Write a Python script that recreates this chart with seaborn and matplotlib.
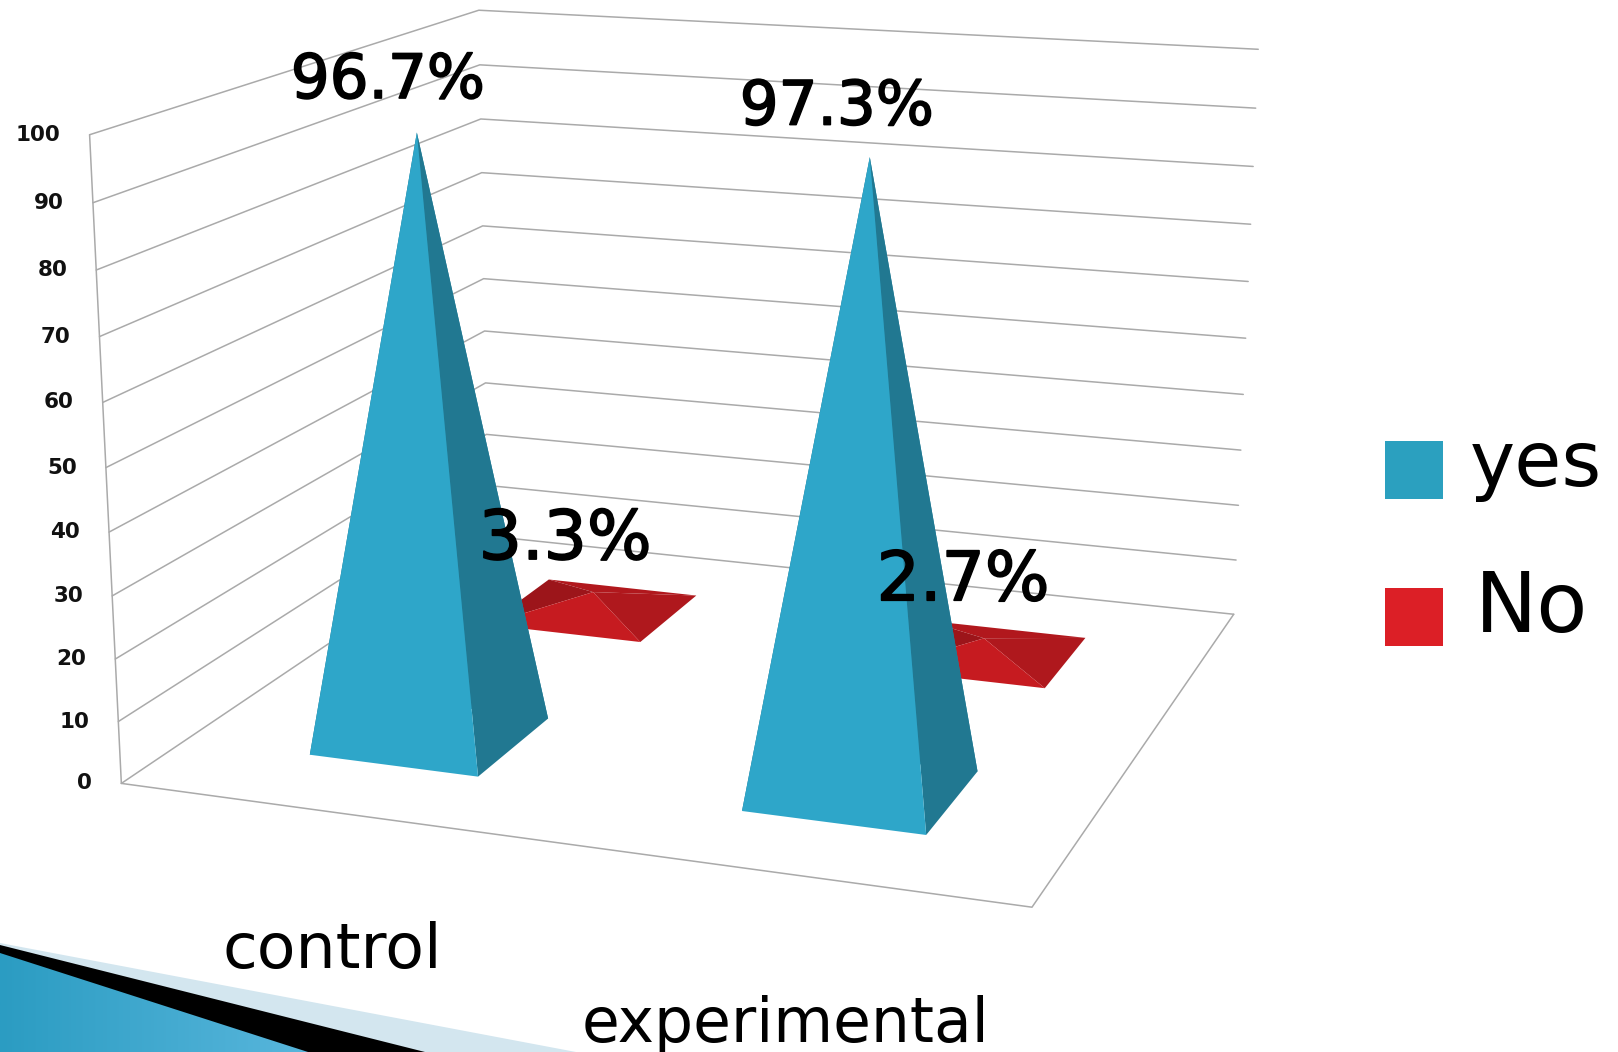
import numpy as np
import pandas as pd
import matplotlib
matplotlib.use("Agg")
import matplotlib.pyplot as plt
import matplotlib.patheffects as pe
import seaborn as sns
from matplotlib.patches import Polygon, Rectangle

categories = ["control", "experimental"]
series = ["yes", "No"]
yes_values = [96.7, 97.3]
no_values = [3.3, 2.7]
yes_labels = ["96.7%", "97.3%"]
no_labels = ["3.3%", "2.7%"]
ticks = [0, 10, 20, 30, 40, 50, 60, 70, 80, 90, 100]

sns.set_theme(style="white")
plt.rcParams["font.family"] = ["DejaVu Sans"]

blue = "#2ea6c9"
red = "#d01c22"
grid = "#aaaaaa"

fig = plt.figure(figsize=(16.18, 10.52), dpi=100)
ax = fig.add_axes([0, 0, 1, 1])

# camera for the fake 3d box: (u across, v depth, z value) -> pixels
box = [(0, 0, 0), (0, 0, 100), (1, 0, 0), (1, 1, 0), (1, 1, 100), (0, 1, 100), (0, 1, 0)]
px = [(120, 787), (91, 134), (1032, 904), (1233, 618), (1259, 48), (477, 12), (490, 532)]
rows = []
rhs = []
for (u, v, z), (x, y) in zip(box, px):
    rows.append([u, v, z, 1, 0, 0, 0, 0, -x * u, -x * v, -x * z])
    rows.append([0, 0, 0, 0, u, v, z, 1, -y * u, -y * v, -y * z])
    rhs += [x, y]
cam = np.linalg.lstsq(np.array(rows, float), np.array(rhs, float), rcond=None)[0]
cam = np.append(cam, 1).reshape(3, 4)


def proj(u, v, z):
    p = cam @ np.array([u, v, z, 1.0])
    return p[0] / p[2], p[1] / p[2]


# walls and floor
lines = []
for t in ticks:
    for k, pt in enumerate([(0, 0, t), (0, 1, t), (1, 1, t)]):
        x, y = proj(*pt)
        lines.append({"x": x, "y": y, "line": f"g{t}", "o": k})
for k, pt in enumerate([(0, 0, 0), (0, 0, 100)]):
    x, y = proj(*pt)
    lines.append({"x": x, "y": y, "line": "edge", "o": k})
for k, pt in enumerate([(0, 0, 0), (1, 0, 0), (1, 1, 0)]):
    x, y = proj(*pt)
    lines.append({"x": x, "y": y, "line": "floor", "o": k})
df = pd.DataFrame(lines)
sns.lineplot(data=df, x="x", y="y", units="line", estimator=None, sort=False,
             color=grid, lw=1.1, legend=False, ax=ax)

# pyramids, back row first
cat_u = [0.25, 0.75]
ser_v = [0.25, 0.745]
half = 0.1


def shade(c, f):
    return tuple(np.array(matplotlib.colors.to_rgb(c)) * f)


def pyramid(cu, sv, val, color, shades, zo):
    a = proj(cu - half, sv - half, 0)
    b = proj(cu + half, sv - half, 0)
    c = proj(cu + half, sv + half, 0)
    d = proj(cu - half, sv + half, 0)
    top = proj(cu, sv, val)
    faces = [(d, c, top), (a, d, top), (b, c, top), (a, b, top)]
    for pts, f in zip(faces, shades):
        ax.add_patch(Polygon(pts, closed=True, fc=shade(color, f), ec="none", zorder=zo))
    return top


for i in range(2):
    pyramid(cat_u[i], ser_v[1], no_values[i], red, [0.85, 0.75, 0.84, 0.95], 3)
tops = []
for i in range(2):
    tops.append(pyramid(cat_u[i], ser_v[0], yes_values[i], blue, [0.8, 0.68, 0.72, 1.0], 4))

# value labels
heavy = [pe.withStroke(linewidth=1.2, foreground="black")]
ax.annotate(yes_labels[0], xy=tops[0], xytext=(-29, 51), textcoords="offset pixels",
            ha="center", va="center", fontsize=44, color="black", zorder=6, path_effects=heavy)
ax.annotate(yes_labels[1], xy=tops[1], xytext=(-33, 49), textcoords="offset pixels",
            ha="center", va="center", fontsize=44, color="black", zorder=6, path_effects=heavy)
for i, (xo, yo) in enumerate([(-28, 52), (-21, 57)]):
    top = proj(cat_u[i], ser_v[1], no_values[i])
    ax.annotate(no_labels[i], xy=top, xytext=(xo, yo), textcoords="offset pixels",
                ha="center", va="center", fontsize=49, color="black", zorder=6, path_effects=heavy)

# value axis
for t in ticks:
    x, y = proj(0, 0, t)
    ax.text(x - 29, y, str(t), ha="right", va="center", fontsize=15.5, fontweight="bold", color="#111111")

# category labels
ax.text(332, 968, categories[0], ha="center", va="baseline", fontsize=45.5, color="black")
ax.text(786, 1042, categories[1], ha="center", va="baseline", fontsize=44.3, color="black")

# legend
ax.add_patch(Rectangle((1385, 441), 58, 58, fc="#2ba0bf", ec="none"))
ax.add_patch(Rectangle((1385, 588), 58, 58, fc="#dc1f26", ec="none"))
ax.text(1470, 486, series[0], ha="left", va="baseline", fontsize=55, color="black")
ax.text(1475, 632, series[1], ha="left", va="baseline", fontsize=60, color="black")

# slide decoration in the corner
ax.add_patch(Polygon([(0, 943), (576, 1052), (0, 1052)], closed=True, fc="#d3e6ef", ec="none", zorder=1))
ax.add_patch(Polygon([(0, 945), (425, 1052), (0, 1052)], closed=True, fc="black", ec="none", zorder=1.1))
wedge = Polygon([(0, 953), (308, 1052), (0, 1052)], closed=True, fc="none", ec="none", zorder=1.2)
ax.add_patch(wedge)
grad = np.linspace(0, 1, 256).reshape(1, -1)
cm = matplotlib.colors.LinearSegmentedColormap.from_list("w", ["#2b9cc2", "#58b6dc"])
im = ax.imshow(grad, cmap=cm, extent=(0, 308, 1052, 953), aspect="auto", zorder=1.2)
im.set_clip_path(wedge)

ax.set_xlim(0, 1618)
ax.set_ylim(1052, 0)
ax.axis("off")
fig.savefig("out.png", dpi=100)
